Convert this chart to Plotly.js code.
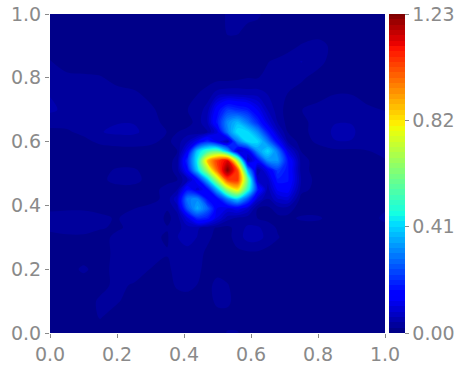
<!DOCTYPE html>
<html><head><meta charset="utf-8">
<script src="https://cdn.plot.ly/plotly-3.0.1.min.js"></script>
<style>html,body{margin:0;padding:0;background:#fff}#c{width:467px;height:370px}</style>
</head><body><div id="c"></div>
<script>
const xVals=[0,.05,.1,.15,.2,.25,.3,.35,.38,.41,.44,.47,.5,.53,.56,.59,.62,.65,.68,.71,.75,.8,.85,.9,.95,1];
const yVals=[0,.05,.1,.15,.2,.25,.3,.33,.36,.39,.42,.45,.48,.51,.54,.57,.6,.63,.66,.7,.75,.8,.85,.9,.95,1];
const zRows=[
[.01,.01,.01,.01,.01,.01,.01,.01,.01,.01,.01,.01,.012,.022,.022,.01,.01,.01,.01,.01,.01,.01,.01,.01,.01,.01],
[.01,.01,.01,.022,.01,.01,.01,.01,.01,.01,.01,.01,.012,.012,.01,.01,.01,.01,.01,.01,.01,.01,.01,.01,.01,.01],
[.01,.01,.01,.024,.023,.01,.01,.01,.01,.01,.01,.012,.026,.026,.01,.01,.01,.01,.01,.01,.01,.01,.01,.01,.01,.01],
[.01,.01,.01,.014,.026,.018,.01,.012,.024,.028,.02,.012,.03,.022,.01,.01,.01,.01,.01,.01,.01,.01,.01,.01,.01,.01],
[.01,.012,.024,.012,.028,.035,.02,.015,.03,.03,.026,.012,.01,.01,.01,.01,.01,.01,.01,.01,.01,.01,.01,.01,.01,.01],
[.01,.01,.01,.012,.026,.04,.028,.022,.024,.03,.028,.016,.01,.01,.016,.016,.016,.012,.01,.01,.01,.01,.01,.01,.01,.01],
[.014,.018,.018,.014,.025,.03,.025,.018,.04,.055,.04,.025,.014,.014,.03,.05,.05,.034,.022,.013,.01,.01,.01,.01,.01,.01],
[.025,.026,.026,.022,.018,.025,.03,.022,.035,.05,.045,.028,.018,.014,.03,.045,.045,.03,.018,.013,.01,.01,.01,.01,.01,.014],
[.026,.03,.03,.026,.018,.035,.04,.015,.03,.1,.2,.18,.1,.05,.035,.03,.02,.015,.015,.015,.024,.024,.01,.01,.01,.026],
[.018,.018,.018,.014,.01,.02,.028,.022,.05,.25,.36,.27,.12,.1,.12,.08,.02,.015,.03,.03,.01,.01,.01,.01,.01,.018],
[.01,.01,.01,.01,.01,.01,.012,.028,.08,.3,.32,.16,.15,.3,.4,.25,.08,.04,.08,.09,.01,.01,.01,.01,.01,.01],
[.01,.01,.01,.01,.012,.012,.012,.028,.04,.16,.09,.15,.38,.68,.82,.5,.18,.05,.13,.14,.03,.01,.01,.01,.01,.01],
[.01,.01,.01,.015,.028,.028,.012,.015,.02,.06,.15,.38,.7,1.03,1.06,.58,.08,.07,.18,.17,.04,.01,.01,.01,.01,.01],
[.01,.01,.01,.012,.024,.024,.01,.01,.03,.15,.4,.68,1,1.23,1.03,.36,.04,.12,.22,.17,.03,.01,.01,.01,.01,.01],
[.01,.01,.01,.01,.01,.01,.01,.01,.03,.2,.45,.87,1.05,1.13,.68,.06,.15,.32,.33,.17,.03,.01,.01,.01,.01,.015],
[.01,.01,.01,.01,.01,.012,.012,.01,.02,.12,.4,.52,.57,.37,.08,.12,.33,.42,.3,.1,.02,.01,.015,.015,.02,.04],
[.01,.012,.015,.025,.03,.03,.025,.015,.03,.06,.12,.2,.12,.05,.3,.42,.42,.3,.14,.04,.01,.025,.04,.04,.025,.03],
[.015,.018,.025,.04,.045,.045,.033,.02,.02,.03,.02,.04,.1,.3,.43,.42,.33,.18,.07,.02,.015,.028,.045,.045,.028,.025],
[.028,.026,.028,.036,.04,.04,.028,.015,.01,.01,.03,.06,.18,.32,.38,.3,.2,.1,.04,.012,.015,.028,.04,.04,.025,.025],
[.045,.036,.028,.028,.028,.028,.024,.012,.01,.02,.03,.05,.15,.22,.2,.18,.12,.06,.03,.012,.02,.028,.032,.028,.024,.02],
[.04,.036,.028,.028,.026,.024,.015,.01,.01,.01,.02,.03,.05,.055,.055,.05,.05,.04,.03,.02,.012,.012,.02,.02,.012,.012],
[.028,.026,.024,.022,.015,.01,.01,.01,.01,.01,.01,.01,.012,.012,.015,.02,.02,.024,.028,.028,.024,.012,.01,.01,.01,.01],
[.022,.01,.01,.01,.01,.01,.01,.01,.01,.01,.01,.01,.01,.01,.01,.01,.01,.02,.024,.028,.042,.028,.01,.01,.01,.01],
[.01,.01,.01,.01,.01,.01,.01,.01,.01,.01,.01,.01,.01,.015,.012,.01,.01,.01,.01,.015,.022,.028,.015,.01,.01,.01],
[.01,.01,.01,.01,.01,.01,.01,.01,.01,.01,.01,.01,.01,.023,.024,.015,.01,.01,.01,.01,.01,.01,.01,.01,.01,.01],
[.01,.01,.01,.01,.01,.01,.01,.01,.01,.01,.01,.01,.01,.024,.028,.028,.026,.01,.01,.01,.01,.01,.01,.01,.01,.01]
];
const cbTicks=[0,.41,.82,1.23];
const cbLabels=['0.00','0.41','0.82','1.23'];
const gray='#8a8a8a';
const jet=[[0,'rgb(0,0,127)'],[.11,'rgb(0,0,255)'],[.125,'rgb(0,0,255)'],[.34,'rgb(0,219,255)'],[.375,'rgb(20,255,226)'],[.64,'rgb(238,255,8)'],[.66,'rgb(255,236,0)'],[.89,'rgb(255,19,0)'],[.91,'rgb(232,0,0)'],[1,'rgb(127,0,0)']];
const axis={range:[0,1],dtick:.2,tick0:0,tickformat:'.1f',ticks:'outside',ticklen:4,tickwidth:1,tickcolor:gray,showgrid:false,zeroline:false,showline:false,tickfont:{family:'DejaVu Sans',size:19,color:gray}};
Plotly.newPlot('c',[{type:'contour',x:xVals,y:yVals,z:zRows,colorscale:jet,zmin:0,zmax:1.23,
 autocontour:false,contours:{start:0,end:1.23,size:.0205,coloring:'fill',showlines:false},line:{width:0,smoothing:1},
 colorbar:{x:1.012,xanchor:'left',xpad:0,ypad:0,y:0,yanchor:'bottom',len:1,thickness:16,outlinewidth:0,tickmode:'array',tickvals:cbTicks,ticktext:cbLabels,ticks:'outside',ticklen:4,tickcolor:gray,tickfont:{family:'DejaVu Sans',size:19,color:gray}}}],
 {width:467,height:370,margin:{l:50,r:82,t:14,b:37},paper_bgcolor:'#fff',plot_bgcolor:'#fff',xaxis:axis,yaxis:axis,showlegend:false},{displayModeBar:false,staticPlot:true});
</script></body></html>
